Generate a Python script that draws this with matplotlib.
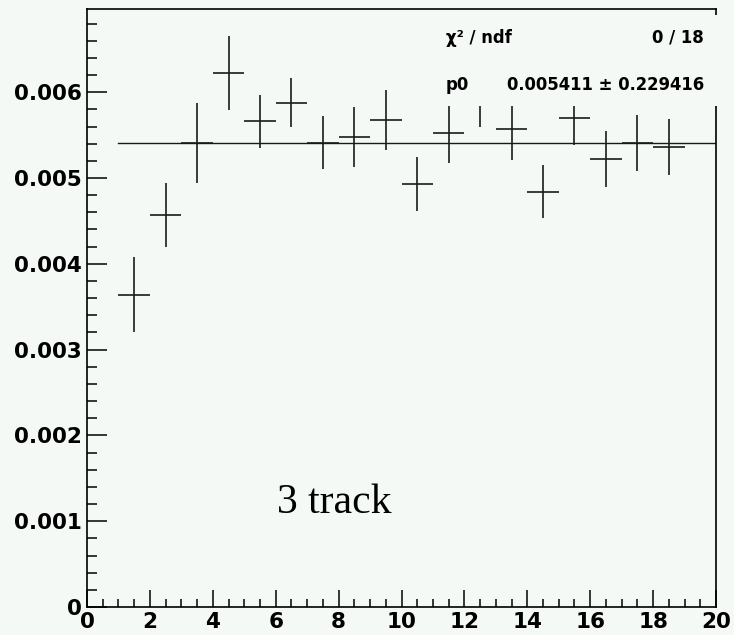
import numpy as np
import matplotlib
matplotlib.use("Agg")
import matplotlib.pyplot as plt
from matplotlib.patches import Rectangle
from matplotlib.ticker import MultipleLocator, FuncFormatter

# bin centres, contents and errors of the 3-track histogram
bin_centers = [1.5, 2.5, 3.5, 4.5, 5.5, 6.5, 7.5, 8.5, 9.5,
               10.5, 11.5, 12.5, 13.5, 14.5, 15.5, 16.5, 17.5, 18.5]
values = [0.00364, 0.00457, 0.00541, 0.00622, 0.00566, 0.00588, 0.00541, 0.00548, 0.00568,
          0.00493, 0.00552, 0.00597, 0.00557, 0.00484, 0.00570, 0.00522, 0.00541, 0.00536]
errors = [0.00044, 0.00037, 0.00047, 0.00043, 0.00031, 0.00029, 0.00031, 0.00035, 0.00035,
          0.00031, 0.00034, 0.00038, 0.00036, 0.00031, 0.00032, 0.00033, 0.00033, 0.00033]

fit_range = [1, 20]
p0 = 0.005411
p0_err = 0.229416
chi2, ndf = 0, 18

bg = "#f4f9f6"

fig = plt.figure(figsize=(7.34, 6.35), dpi=100, facecolor=bg)
ax = fig.add_axes([87 / 734, 28 / 635, 629 / 734, 598 / 635], facecolor=bg)

ax.errorbar(bin_centers, values, xerr=0.5, yerr=errors, fmt="none",
            ecolor="#1a1a1a", elinewidth=1.2, capsize=0)
ax.plot(fit_range, [p0, p0], color="#1a1a1a", lw=1.0)

ax.set_xlim(0, 20)
ax.set_ylim(0, 0.00697)

for s in ax.spines.values():
    s.set_linewidth(1.2)

ax.xaxis.set_major_locator(MultipleLocator(2))
ax.xaxis.set_minor_locator(MultipleLocator(0.5))
ax.yaxis.set_major_locator(MultipleLocator(0.001))
ax.yaxis.set_minor_locator(MultipleLocator(0.0002))
ax.yaxis.set_major_formatter(FuncFormatter(lambda v, p: "0" if abs(v) < 1e-9 else f"{v:.3f}"))
ax.xaxis.set_major_formatter(FuncFormatter(lambda v, p: f"{v:.0f}"))

ax.tick_params(axis="y", which="major", direction="in", length=14.4, width=1.1, pad=4,
               labelsize=15.5)
ax.tick_params(axis="y", which="minor", direction="in", length=7.2, width=1.1)
ax.tick_params(axis="x", which="major", direction="in", length=12.2, width=1.1, pad=3.5,
               labelsize=15.5)
ax.tick_params(axis="x", which="minor", direction="in", length=5.8, width=1.1)
for lab in ax.get_xticklabels() + ax.get_yticklabels():
    lab.set_fontweight("bold")
    lab.set_family("DejaVu Sans")

# fit statistics box
ax.add_patch(Rectangle((420 / 734, (635 - 106) / 635), 305 / 734, 91 / 635,
                       transform=fig.transFigure, facecolor=bg, edgecolor="none",
                       clip_on=False, zorder=10))
stat_kw = dict(transform=fig.transFigure, fontsize=11.9, fontweight="bold",
               family="DejaVu Sans", va="center", zorder=11)
fig.text(446 / 734, 1 - 38 / 635, "χ² / ndf", ha="left", **stat_kw)
fig.text(704 / 734, 1 - 38 / 635, f"{chi2} / {ndf}", ha="right", **stat_kw)
fig.text(446 / 734, 1 - 85 / 635, "p0", ha="left", **stat_kw)
fig.text(704 / 734, 1 - 85 / 635, f"{p0:.6f} ± {p0_err:.6f}", ha="right", **stat_kw)

ax.text(6.05, 0.00122, "3 track", family="Liberation Serif", fontsize=30,
        ha="left", va="center")

fig.savefig("out.png", dpi=100, facecolor=bg)
